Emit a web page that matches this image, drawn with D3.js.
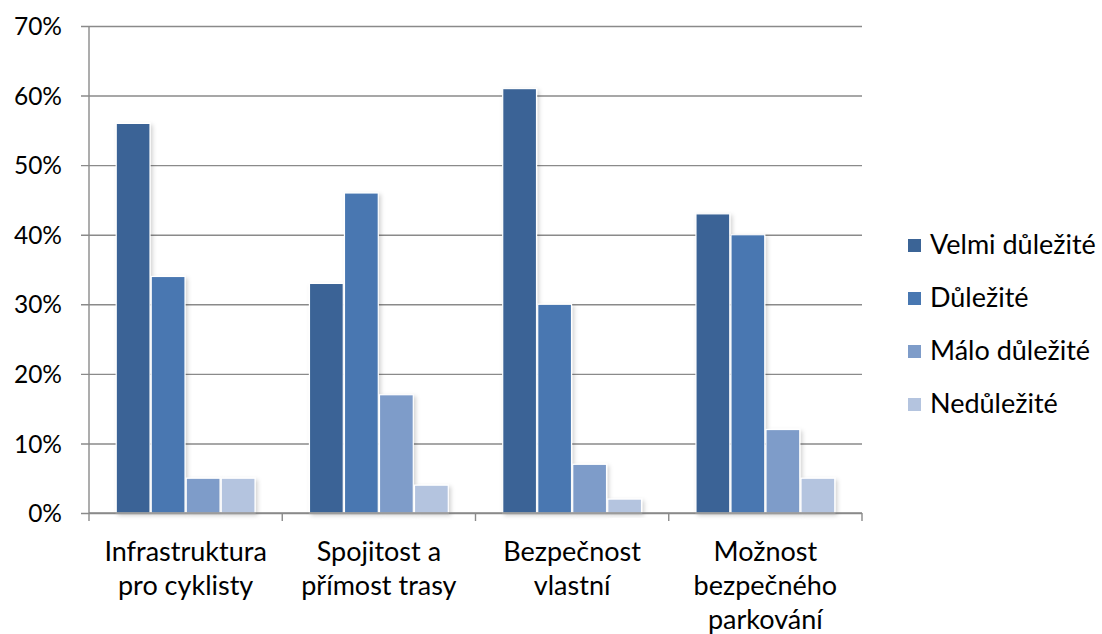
<!DOCTYPE html>
<html>
<head>
<meta charset="utf-8">
<script src="https://cdn.jsdelivr.net/npm/d3@7"></script>
<style>
  html, body { margin: 0; padding: 0; background: #fff; }
  svg text { font-family: Lato, "Open Sans", sans-serif; fill: #000; }
</style>
</head>
<body>
<svg id="chart" width="1102" height="634"></svg>
<script>
// Categories (multi-line labels) and series
const categories = [
  ["Infrastruktura", "pro cyklisty"],
  ["Spojitost a", "přímost trasy"],
  ["Bezpečnost", "vlastní"],
  ["Možnost", "bezpečného", "parkování"]
];
const seriesNames = ["Velmi důležité", "Důležité", "Málo důležité", "Nedůležité"];
const velmiDulezite = [0.56, 0.33, 0.61, 0.43];
const dulezite      = [0.34, 0.46, 0.30, 0.40];
const maloDulezite  = [0.05, 0.17, 0.07, 0.12];
const nedulezite    = [0.05, 0.04, 0.02, 0.05];
const yTicks = [0, 0.1, 0.2, 0.3, 0.4, 0.5, 0.6, 0.7];
const colors = ["#3B6496", "#4877B1", "#7E9CC9", "#B4C4DF"];

const seriesValues = [velmiDulezite, dulezite, maloDulezite, nedulezite];

const svg = d3.select("#chart");
const plot = { left: 89, right: 862, top: 26, bottom: 513 };

const x0 = d3.scaleBand()
  .domain(d3.range(categories.length))
  .range([plot.left, plot.right])
  .paddingInner(0).paddingOuter(0);

const x1 = d3.scaleBand()
  .domain(d3.range(seriesNames.length))
  .range([0, x0.bandwidth()])
  .paddingOuter(0.76).paddingInner(0);

const y = d3.scaleLinear().domain([0, 0.7]).range([plot.bottom, plot.top]);

// soft shadow behind bars
const defs = svg.append("defs");
const f = defs.append("filter").attr("id", "shadow")
  .attr("x", "-20%").attr("y", "-20%").attr("width", "150%").attr("height", "150%");
f.append("feDropShadow").attr("dx", 2).attr("dy", 2).attr("stdDeviation", 2)
  .attr("flood-color", "#000").attr("flood-opacity", 0.18);

// gridlines
const yAxis = d3.axisLeft(y).tickValues(yTicks)
  .tickFormat(d3.format(".0%"))
  .tickSize(-(plot.right - plot.left + 8)).tickPadding(18);

const gy = svg.append("g")
  .attr("transform", `translate(${plot.left},0)`)
  .call(yAxis);
gy.select(".domain").remove();
gy.selectAll(".tick line")
  .attr("x1", -8).attr("x2", plot.right - plot.left)
  .attr("stroke", "#8a8a8a").attr("stroke-width", 1.4);
gy.selectAll(".tick text")
  .attr("font-size", 24.5).attr("x", -27).attr("dy", "0.35em")
  .style("font-family", "Lato, sans-serif");

// vertical axis line
svg.append("line")
  .attr("x1", plot.left).attr("x2", plot.left)
  .attr("y1", plot.top).attr("y2", plot.bottom)
  .attr("stroke", "#8a8a8a").attr("stroke-width", 1.4);

// bars
const groups = svg.append("g").selectAll("g")
  .data(categories.map((c, i) => i))
  .join("g")
  .attr("transform", i => `translate(${x0(i)},0)`);

groups.selectAll("rect")
  .data(i => seriesValues.map((vals, s) => ({ s, v: vals[i] })))
  .join("rect")
  .attr("x", d => x1(d.s) + 0.6)
  .attr("width", x1.bandwidth() - 1.2)
  .attr("y", d => y(d.v))
  .attr("height", d => y(0) - y(d.v))
  .attr("fill", d => colors[d.s])
  .attr("stroke", "#ffffff")
  .attr("stroke-width", 1.2)
  .attr("filter", "url(#shadow)");

// horizontal axis with tick marks between categories
const xAxisG = svg.append("g");
xAxisG.append("line")
  .attr("x1", plot.left).attr("x2", plot.right)
  .attr("y1", plot.bottom).attr("y2", plot.bottom)
  .attr("stroke", "#8a8a8a").attr("stroke-width", 1.4);
xAxisG.selectAll("line.t")
  .data(d3.range(categories.length + 1))
  .join("line").attr("class", "t")
  .attr("x1", i => plot.left + i * x0.bandwidth())
  .attr("x2", i => plot.left + i * x0.bandwidth())
  .attr("y1", plot.bottom).attr("y2", plot.bottom + 8)
  .attr("stroke", "#8a8a8a").attr("stroke-width", 1.4);

// category labels
svg.append("g").selectAll("text")
  .data(categories)
  .join("text")
  .attr("text-anchor", "middle")
  .attr("font-size", 27)
  .attr("transform", (c, i) => `translate(${x0(i) + x0.bandwidth() / 2},561)`)
  .selectAll("tspan")
  .data(c => c)
  .join("tspan")
  .attr("x", 0)
  .attr("dy", (t, j) => j === 0 ? 0 : 34)
  .text(t => t);

// legend
const legend = svg.append("g").attr("transform", "translate(908,245)");
const items = legend.selectAll("g")
  .data(seriesNames)
  .join("g")
  .attr("transform", (n, i) => `translate(0,${i * 53})`);
items.append("rect")
  .attr("x", 0).attr("y", -6).attr("width", 13).attr("height", 13)
  .attr("fill", (n, i) => colors[i]);
items.append("text")
  .attr("x", 22).attr("dy", "0.35em")
  .attr("font-size", 27)
  .text(n => n);
</script>
</body>
</html>
